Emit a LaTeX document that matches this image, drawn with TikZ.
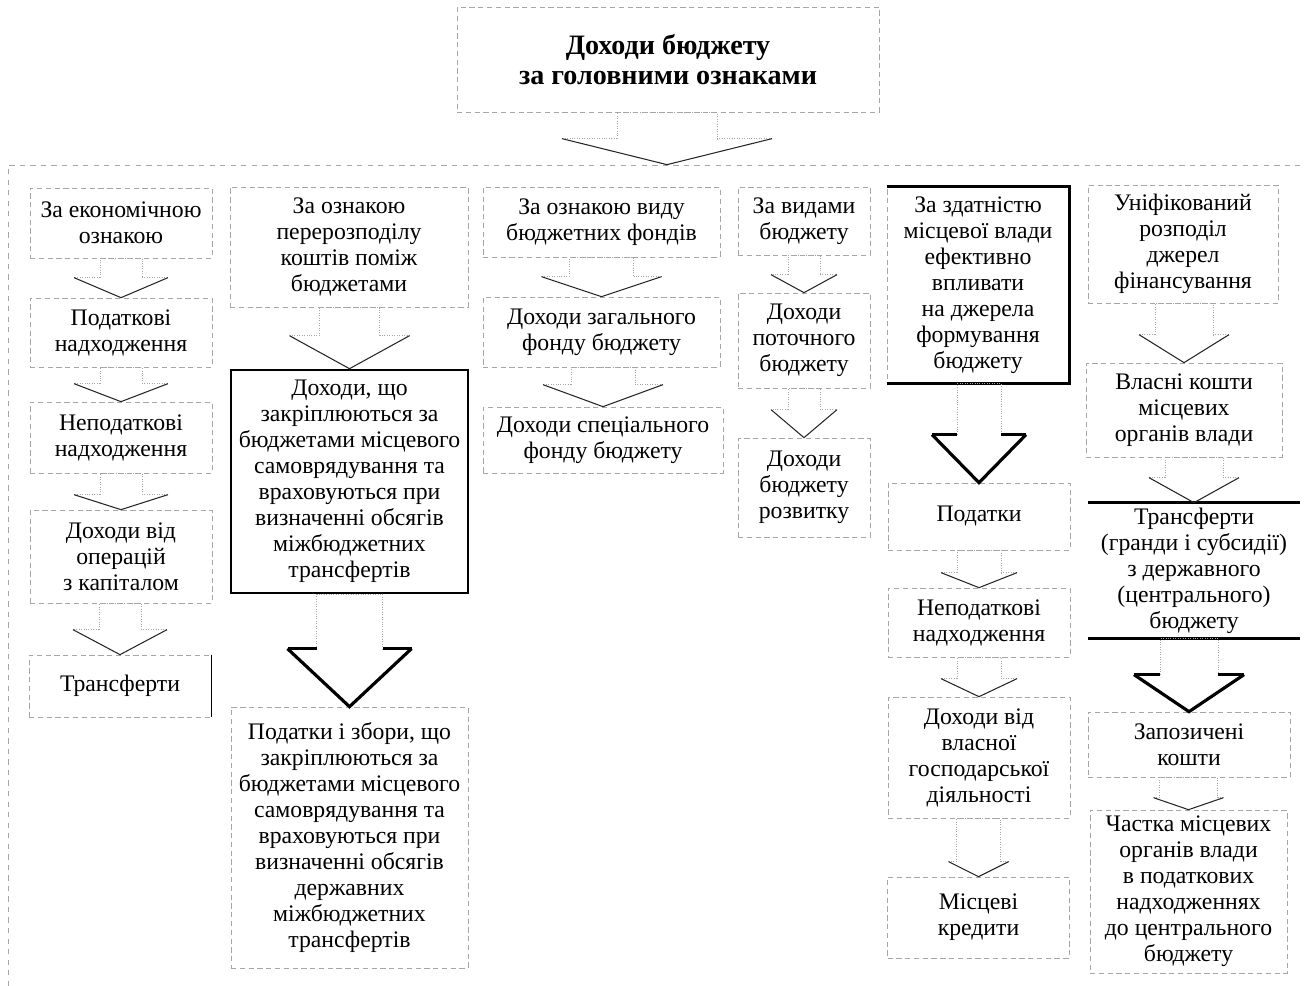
\documentclass[tikz,border=0pt]{standalone}
\usepackage{fontspec}
\setmainfont{Liberation Serif}
\usetikzlibrary{calc}

\tikzset{
  box/.style={draw=gray!70, densely dashed, thin, align=center, inner sep=1pt,
    font=\fontsize{13.5}{14.8}\selectfont},
  boldbox/.style={box, draw=black, solid, line width=1.5pt},
  titlebox/.style={box, font=\fontsize{16}{17.5}\selectfont\bfseries},
  arrline/.style={draw=gray!70, densely dotted, thin},
  smallv/.style={draw=black!85, semithick},
  bighead/.style={draw=black, line width=1.8pt, line join=miter},
  frameline/.style={draw=gray!70, dashed, thin},
  heavyline/.style={draw=black, line width=1.5pt}
}

% block arrow: from, to, stem half width, head half width, head length, base style, tip style
\newcommand{\blockarr}[7]{%
  \coordinate (st) at (#1.south -| #2.north);
  \draw[arrline] ($(#2.north)+(-#3,-#5)$) -- ($(st)+(-#3,0)$) -- ($(st)+(#3,0)$) -- ($(#2.north)+(#3,-#5)$);
  \draw[#6] ($(#2.north)+(-#3,-#5)$) -- ($(#2.north)+(-#4,-#5)$) ($(#2.north)+(#3,-#5)$) -- ($(#2.north)+(#4,-#5)$);
  \draw[#7] ($(#2.north)+(-#4,-#5)$) -- (#2.north) -- ($(#2.north)+(#4,-#5)$);
}

\begin{document}
\begin{tikzpicture}[x=0.02cm, y=-0.02cm]
  \useasboundingbox (0,0) rectangle (1304,986);

  \node[titlebox, minimum width=8.44cm, minimum height=2.1cm] (top) at (668,59.5) {Доходи бюджету\\за головними ознаками};
  \node[inner sep=0pt, minimum size=0pt] (framein) at (667,165) {};
  \draw[frameline] (8,986) -- (8,165) -- (1300,165);

  \node[box, minimum width=3.64cm, minimum height=1.4cm] (c1a) at (121,223) {За економічною\\ознакою};
  \node[box, minimum width=3.64cm, minimum height=1.38cm] (c1b) at (121,332.5) {Податкові\\надходження};
  \node[box, minimum width=3.64cm, minimum height=1.42cm] (c1c) at (121,437.5) {Неподаткові\\надходження};
  \node[box, minimum width=3.64cm, minimum height=1.86cm] (c1d) at (121,556.5) {Доходи від\\операцій\\з капіталом};
  \node[box, minimum width=3.64cm, minimum height=1.24cm] (c1e) at (120,686) {Трансферти};
  \draw[thin, black] (c1e.north east) -- (c1e.south east);

  \node[box, minimum width=4.76cm, minimum height=2.4cm] (c2a) at (349,247) {За ознакою\\перерозподілу\\коштів поміж\\бюджетами};
  \node[boldbox, minimum width=4.74cm, minimum height=4.46cm] (c2b) at (349.5,481.5) {Доходи, що\\закріплюються за\\бюджетами місцевого\\самоврядування та\\враховуються при\\визначенні обсягів\\міжбюджетних\\трансфертів};
  \node[box, minimum width=4.74cm, minimum height=5.22cm] (c2c) at (349.5,837.5) {Податки і збори, що\\закріплюються за\\бюджетами місцевого\\самоврядування та\\враховуються при\\визначенні обсягів\\державних\\міжбюджетних\\трансфертів};

  \node[box, minimum width=4.74cm, minimum height=1.4cm] (c3a) at (601.5,222) {За ознакою виду\\бюджетних фондів};
  \node[box, minimum width=4.74cm, minimum height=1.4cm] (c3b) at (601.5,332) {Доходи загального\\фонду бюджету};
  \node[box, minimum width=4.8cm, minimum height=1.32cm] (c3c) at (603,440) {Доходи спеціального\\фонду бюджету};

  \node[box, minimum width=2.64cm, minimum height=1.36cm] (c4a) at (804,221) {За видами\\бюджету};
  \node[box, minimum width=2.64cm, minimum height=1.9cm] (c4b) at (804,340.5) {Доходи\\поточного\\бюджету};
  \node[box, minimum width=2.64cm, minimum height=1.98cm] (c4c) at (804,487.5) {Доходи\\бюджету\\розвитку};

  \node[box, minimum width=3.64cm, minimum height=3.92cm] (c5a) at (978,285) {За здатністю\\місцевої влади\\ефективно\\впливати\\на джерела\\формування\\бюджету};
  \draw[heavyline] (c5a.north west) -- (c5a.north east) -- (c5a.south east) -- (c5a.south west);
  \node[box, minimum width=3.64cm, minimum height=1.34cm] (c5b) at (979,516.5) {Податки};
  \node[box, minimum width=3.64cm, minimum height=1.38cm] (c5c) at (979,622.5) {Неподаткові\\надходження};
  \node[box, minimum width=3.64cm, minimum height=2.42cm] (c5d) at (979,757.5) {Доходи від\\власної\\господарської\\діяльності};
  \node[box, minimum width=3.64cm, minimum height=1.62cm] (c5e) at (978.5,917.5) {Місцеві\\кредити};

  \node[box, minimum width=3.8cm, minimum height=2.36cm] (c6a) at (1183,244) {Уніфікований\\розподіл\\джерел\\фінансування};
  \node[box, minimum width=3.92cm, minimum height=1.88cm] (c6b) at (1184,410) {Власні кошти\\місцевих\\органів влади};
  \node[box, draw=none, minimum width=4.24cm, minimum height=2.7cm] (c6c) at (1194,570.5) {Трансферти\\(гранди і субсидії)\\з державного\\(центрального)\\бюджету};
  \draw[heavyline] (c6c.north west) -- (c6c.north east);
  \draw[heavyline] (c6c.south west) -- (c6c.south east);
  \node[box, minimum width=4.04cm, minimum height=1.3cm] (c6d) at (1189,744.5) {Запозичені\\кошти};
  \node[box, minimum width=3.94cm, minimum height=3.26cm] (c6e) at (1188.5,891.5) {Частка місцевих\\органів влади\\в податкових\\надходженнях\\до центрального\\бюджету};

  \blockarr{top}{framein}{50}{105}{26}{arrline}{smallv}

  \blockarr{c1a}{c1b}{21}{47}{20}{arrline}{smallv}
  \blockarr{c1b}{c1c}{21}{47}{18}{arrline}{smallv}
  \blockarr{c1c}{c1d}{21}{47}{15}{arrline}{smallv}
  \blockarr{c1d}{c1e}{21}{47}{25}{arrline}{smallv}

  \blockarr{c2a}{c2b}{30}{60}{33}{arrline}{smallv}
  \blockarr{c2b}{c2c}{33}{62}{58}{bighead}{bighead}

  \blockarr{c3a}{c3b}{32}{60}{20}{arrline}{smallv}
  \blockarr{c3b}{c3c}{32}{60}{22}{arrline}{smallv}

  \blockarr{c4a}{c4b}{16}{33}{18}{arrline}{smallv}
  \blockarr{c4b}{c4c}{16}{33}{28}{arrline}{smallv}

  \blockarr{c5a}{c5b}{22}{47}{48}{bighead}{bighead}
  \blockarr{c5b}{c5c}{22}{38}{15}{arrline}{smallv}
  \blockarr{c5c}{c5d}{22}{38}{18}{arrline}{smallv}
  \blockarr{c5d}{c5e}{22}{30}{15}{arrline}{smallv}

  \blockarr{c6a}{c6b}{29}{45}{28}{arrline}{smallv}
  \blockarr{c6b}{c6c}{29}{45}{25}{arrline}{smallv}
  \blockarr{c6c}{c6d}{29}{55}{37}{bighead}{bighead}
  \blockarr{c6d}{c6e}{29}{35}{12}{arrline}{smallv}
\end{tikzpicture}
\end{document}
